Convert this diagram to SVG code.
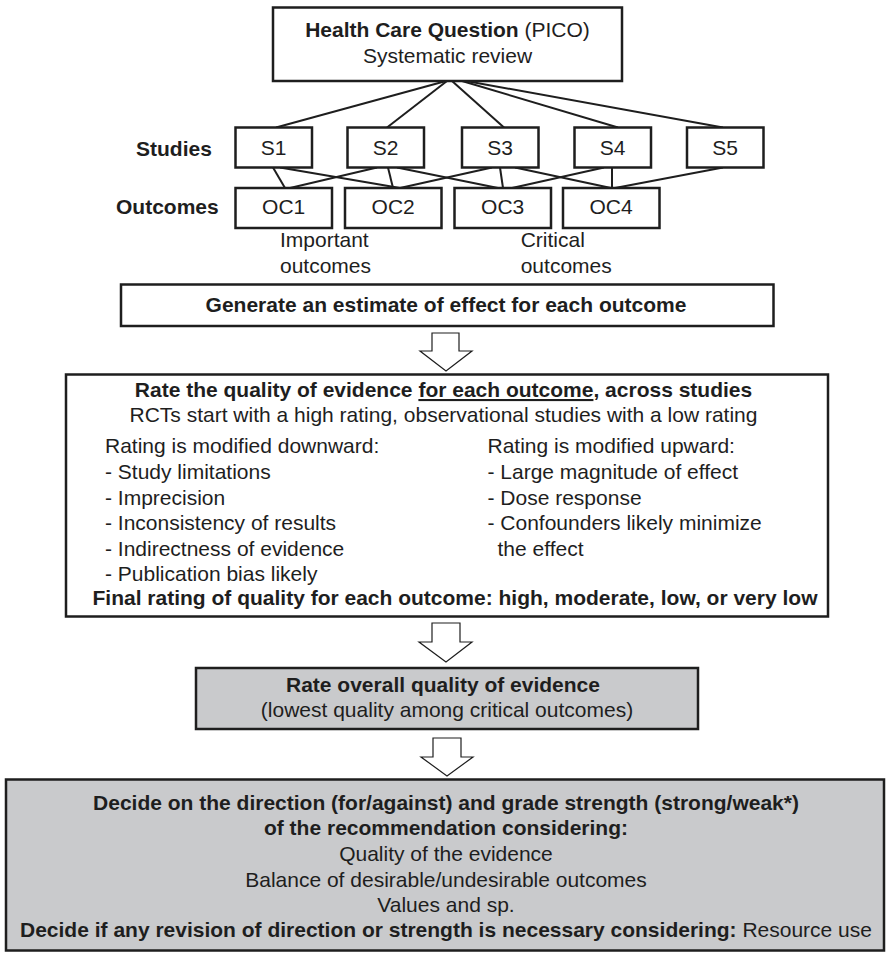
<svg xmlns="http://www.w3.org/2000/svg" width="889" height="954" viewBox="0 0 889 954">
<style>
.box{fill:#fff;stroke:#1e1e1e;stroke-width:2.5}
.gray{fill:#c9cacc}
.t{font-family:"Liberation Sans",Arial,Helvetica,sans-serif;font-size:21px;fill:#1e1e1e}
.b{font-weight:bold}
.m{text-anchor:middle}
.conn line{stroke:#1e1e1e;stroke-width:2}
.arrow{fill:#fff;stroke:#1e1e1e;stroke-width:1.2;stroke-linejoin:miter}
</style>
<rect width="889" height="954" fill="#fff"/>
<g id="connectors" class="conn">
  <line x1="446" y1="81" x2="276" y2="127.5"/>
  <line x1="447" y1="81" x2="387" y2="127.5"/>
  <line x1="452" y1="81" x2="504" y2="127.5"/>
  <line x1="462" y1="81" x2="618" y2="127.5"/>
  <line x1="466" y1="81" x2="723" y2="127.5"/>
  <line x1="273" y1="167.5" x2="285" y2="188"/>
  <line x1="280" y1="167.5" x2="400" y2="188"/>
  <line x1="377" y1="167.5" x2="290" y2="188"/>
  <line x1="388" y1="167.5" x2="393" y2="188"/>
  <line x1="397" y1="167.5" x2="498" y2="188"/>
  <line x1="492" y1="167.5" x2="400" y2="188"/>
  <line x1="500" y1="167.5" x2="503" y2="188"/>
  <line x1="515" y1="167.5" x2="611" y2="188"/>
  <line x1="604" y1="167.5" x2="512" y2="188"/>
  <line x1="612" y1="167.5" x2="612" y2="188"/>
  <line x1="723" y1="167.5" x2="615" y2="188"/>
  <path class="arrow" d="M432,333 H459 V351 H472 L446,371 L420,351 H432 Z"/>
  <path class="arrow" d="M432,623 H460 V642 H472 L446,662 L419,642 H432 Z"/>
  <path class="arrow" d="M433,738 H461 V757 H473 L447,776 L421,757 H433 Z"/>
</g>
<g id="question">
  <rect class="box" x="273" y="7.5" width="349" height="73.5"/>
  <text class="t m" x="447.5" y="37"><tspan class="b">Health Care Question</tspan> (PICO)</text>
  <text class="t m" x="447.5" y="63">Systematic review</text>
</g>
<g id="labels">
  <text class="t b" x="136" y="155.5">Studies</text>
  <text class="t b" x="116" y="214">Outcomes</text>
  <text class="t" x="280" y="247">Important</text>
  <text class="t" x="280" y="273">outcomes</text>
  <text class="t" x="520.7" y="247">Critical</text>
  <text class="t" x="520.7" y="273">outcomes</text>
</g>
<g id="S1"><rect class="box" x="235.5" y="127.5" width="76.5" height="40"/><text class="t m" x="273.5" y="155">S1</text></g>
<g id="S2"><rect class="box" x="347.5" y="127.5" width="76.5" height="40"/><text class="t m" x="385.7" y="155">S2</text></g>
<g id="S3"><rect class="box" x="462" y="127.5" width="76.5" height="40"/><text class="t m" x="500.2" y="155">S3</text></g>
<g id="S4"><rect class="box" x="574.5" y="127.5" width="76.5" height="40"/><text class="t m" x="612.7" y="155">S4</text></g>
<g id="S5"><rect class="box" x="687" y="127.5" width="76.5" height="40"/><text class="t m" x="725" y="155">S5</text></g>
<g id="OC1"><rect class="box" x="235.5" y="188" width="96.5" height="40"/><text class="t m" x="283.7" y="214">OC1</text></g>
<g id="OC2"><rect class="box" x="345" y="188" width="96.5" height="40"/><text class="t m" x="393.2" y="214">OC2</text></g>
<g id="OC3"><rect class="box" x="454.5" y="188" width="96.5" height="40"/><text class="t m" x="502.7" y="214">OC3</text></g>
<g id="OC4"><rect class="box" x="563" y="188" width="96.5" height="40"/><text class="t m" x="611" y="214">OC4</text></g>
<g id="estimate">
  <rect class="box" x="121" y="284.5" width="652.5" height="41.5"/>
  <text class="t b m" x="446" y="312">Generate an estimate of effect for each outcome</text>
</g>
<g id="rate">
  <rect class="box" x="66" y="374.5" width="762" height="242"/>
  <text class="t b m" x="443.5" y="397">Rate the quality of evidence <tspan text-decoration="underline">for each outcome</tspan>, across studies</text>
  <text class="t m" x="443.5" y="422">RCTs start with a high rating, observational studies with a low rating</text>
  <text class="t" x="105" y="453">Rating is modified downward:</text>
  <text class="t" x="105" y="479">- Study limitations</text>
  <text class="t" x="105" y="504.5">- Imprecision</text>
  <text class="t" x="105" y="530">- Inconsistency of results</text>
  <text class="t" x="105" y="555.5">- Indirectness of evidence</text>
  <text class="t" x="105" y="581">- Publication bias likely</text>
  <text class="t" x="487.5" y="453">Rating is modified upward:</text>
  <text class="t" x="487.5" y="479">- Large magnitude of effect</text>
  <text class="t" x="487.5" y="504.5">- Dose response</text>
  <text class="t" x="487.5" y="530">- Confounders likely minimize</text>
  <text class="t" x="497.5" y="555.5">the effect</text>
  <text class="t b m" x="455" y="605">Final rating of quality for each outcome: high, moderate, low, or very low</text>
</g>
<g id="overall">
  <rect class="box gray" x="196" y="668" width="502" height="61"/>
  <text class="t b m" x="443" y="692">Rate overall quality of evidence</text>
  <text class="t m" x="447" y="717">(lowest quality among critical outcomes)</text>
</g>
<g id="decide">
  <rect class="box gray" x="6" y="779.5" width="878" height="171"/>
  <text class="t b m" x="446" y="810">Decide on the direction (for/against) and grade strength (strong/weak*)</text>
  <text class="t b m" x="446" y="835">of the recommendation considering:</text>
  <text class="t m" x="446" y="861">Quality of the evidence</text>
  <text class="t m" x="446" y="886.5">Balance of desirable/undesirable outcomes</text>
  <text class="t m" x="446" y="912">Values and sp.</text>
  <text class="t m" x="446" y="937"><tspan class="b">Decide if any revision of direction or strength is necessary considering:</tspan> Resource use</text>
</g>
</svg>
